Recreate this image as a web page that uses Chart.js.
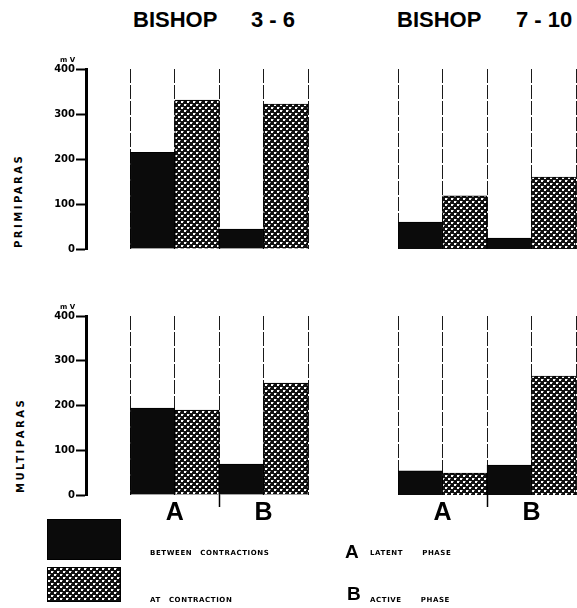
<!DOCTYPE html>
<html>
<head>
<meta charset="utf-8">
<script src="https://cdn.jsdelivr.net/npm/chart.js@4.4.1/dist/chart.umd.min.js"></script>
<style>
  body { margin: 0; background: #fff; }
  #wrap { position: relative; width: 577px; height: 608px; overflow: hidden; background: #fff; }
  #wrap canvas { position: absolute; left: 0; top: 0; }
  .t { position: absolute; white-space: pre; color: #000; font-family: "Liberation Sans", Arial, sans-serif; font-weight: bold; }
  .title { font-size: 22px; line-height: 22px; top: 9px; }
  .small { font-family: "DejaVu Sans", sans-serif; font-size: 7px; line-height: 7px; letter-spacing: 0.6px; word-spacing: 5px; }
  .wide { word-spacing: 16px; }
  .row { font-family: "DejaVu Sans", sans-serif; font-size: 10px; line-height: 10px; letter-spacing: 2.5px; transform-origin: 0 0; transform: rotate(-90deg); }
  .box { position: absolute; border: 1px solid #000; box-sizing: border-box; }
</style>
</head>
<body>
<div id="wrap">
  <canvas id="c1" width="300" height="240"></canvas>
  <canvas id="c2" width="300" height="240"></canvas>
  <canvas id="c3" width="300" height="240"></canvas>
  <canvas id="c4" width="300" height="240"></canvas>

  <div class="t title" style="left:133px">BISHOP</div>
  <div class="t title" style="left:251px">3 - 6</div>
  <div class="t title" style="left:397px">BISHOP</div>
  <div class="t title" style="left:516px">7 - 10</div>

  <div class="t" style="left:60px;top:57px;font-size:7px;line-height:7px;font-family:'DejaVu Sans'">m V</div>
  <div class="t" style="left:60px;top:304px;font-size:7px;line-height:7px;font-family:'DejaVu Sans'">m V</div>

  <div class="t row" style="left:14px;top:248px">PRIMIPARAS</div>
  <div class="t row" style="left:16px;top:493px">MULTIPARAS</div>

  <div class="box" id="lg1" style="left:47px;top:519px;width:74px;height:41px;background:#0b0b0b"></div>
  <div class="box" id="lg2" style="left:47px;top:567px;width:74px;height:35px"></div>
  <div class="t small" id="lt1" style="left:150px;top:550px"></div>
  <div class="t small" id="lt2" style="left:150px;top:597px"></div>

  <div class="t" style="left:345px;top:542px;font-size:19px;line-height:19px">A</div>
  <div class="t small wide" id="lt3" style="left:370px;top:550px"></div>
  <div class="t" style="left:347px;top:584px;font-size:19px;line-height:19px">B</div>
  <div class="t small wide" id="lt4" style="left:370px;top:597px"></div>
</div>
<script>
// phases on the x axis
var groups = ['A', 'B'];
var groupNames = ['LATENT PHASE', 'ACTIVE PHASE'];
var seriesNames = ['BETWEEN CONTRACTIONS', 'AT CONTRACTION'];
var yTicks = [0, 100, 200, 300, 400];

// mV, [latent, active]
var primi36Between = [215, 44];
var primi36At = [331, 322];
var primi710Between = [60, 24];
var primi710At = [118, 160];
var multi36Between = [194, 69];
var multi36At = [190, 250];
var multi710Between = [54, 67];
var multi710At = [49, 266];

// dotted halftone fill used for "at contraction"
var tile = document.createElement('canvas');
tile.width = 6; tile.height = 6;
var tg = tile.getContext('2d');
tg.fillStyle = '#111';
tg.fillRect(0, 0, 6, 6);
tg.fillStyle = '#fff';
tg.fillRect(0, 0, 2, 2);
tg.fillRect(3, 3, 2, 2);
tg.fillStyle = '#888';
tg.fillRect(2, 0, 1, 1);
tg.fillRect(5, 3, 1, 1);
var dots = tg.createPattern(tile, 'repeat');

document.getElementById('lg2').style.backgroundImage = 'url(' + tile.toDataURL() + ')';
document.getElementById('lt1').textContent = seriesNames[0];
document.getElementById('lt2').textContent = seriesNames[1];
document.getElementById('lt3').textContent = groupNames[0];
document.getElementById('lt4').textContent = groupNames[1];

function panel(id, between, at, opt) {
	var ctx = document.getElementById(id);
	var hide = 'rgba(0,0,0,0)';
	return new Chart(ctx, {
		type: 'bar',
		data: {
			datasets: [
				{
					label: seriesNames[0],
					data: between.map(function (v, i) { return { x: i * 2 + 0.5, y: v }; }),
					backgroundColor: '#0b0b0b'
				},
				{
					label: seriesNames[1],
					data: at.map(function (v, i) { return { x: i * 2 + 1.5, y: v }; }),
					backgroundColor: dots
				}
			]
		},
		options: {
			responsive: false,
			maintainAspectRatio: false,
			animation: false,
			layout: { padding: { top: 6, right: 2 } },
			plugins: { legend: { display: false }, tooltip: { enabled: false } },
			datasets: {
				bar: { grouped: false, barPercentage: 1, categoryPercentage: 1, borderColor: '#000', borderWidth: 1 }
			},
			scales: {
				x: {
					type: 'linear',
					offset: false,
					min: opt.yAxis ? -1 : 0,
					max: groups.length * 2,
					ticks: {
						display: opt.letters,
						stepSize: 1,
						autoSkip: false,
						maxRotation: 0,
						padding: -9,
						color: '#000',
						font: { family: 'Liberation Sans', weight: 'bold', size: 25 },
						callback: function (v) { return v % 2 === 1 ? groups[(v - 1) / 2] : ''; }
					},
					grid: {
						offset: false,
						color: function (c) { return c.tick && c.tick.value < 0 ? hide : '#1a1a1a'; },
						lineWidth: 1,
						tickLength: 12,
						tickWidth: 1.5,
						tickColor: function (c) { return opt.letters && c.tick && c.tick.value === 2 ? '#000' : hide; }
					},
					border: { display: false, dash: [14, 2] },
					afterFit: function (s) { s.height = opt.letters ? 30 : 8; }
				},
				y: {
					display: opt.yAxis,
					min: yTicks[0],
					max: yTicks[yTicks.length - 1],
					ticks: {
						stepSize: 100,
						padding: 1,
						color: '#000',
						font: { family: 'DejaVu Sans', weight: 'bold', size: 10 }
					},
					grid: { drawOnChartArea: false, color: '#000', tickLength: 10, tickWidth: 2 },
					border: { color: '#000', width: 3 },
					afterFit: function (s) { s.width = 46; }
				}
			}
		}
	});
}

// move/resize a chart so its plot area lands on the given box
function place(chart, box) {
	var a = chart.chartArea;
	var w = chart.width + (box.right - box.left) - (a.right - a.left);
	var h = chart.height + (box.bottom - box.top) - (a.bottom - a.top);
	chart.resize(w, h);
	a = chart.chartArea;
	chart.canvas.style.left = (box.left - a.left) + 'px';
	chart.canvas.style.top = (box.top - a.top) + 'px';
}

place(panel('c1', primi36Between, primi36At, { yAxis: true, letters: false }), { left: 86, top: 69, right: 308, bottom: 249 });
place(panel('c2', primi710Between, primi710At, { yAxis: false, letters: false }), { left: 398, top: 69, right: 576, bottom: 249 });
place(panel('c3', multi36Between, multi36At, { yAxis: true, letters: true }), { left: 86, top: 316, right: 308, bottom: 495 });
place(panel('c4', multi710Between, multi710At, { yAxis: false, letters: true }), { left: 398, top: 316, right: 576, bottom: 495 });
</script>
</body>
</html>
